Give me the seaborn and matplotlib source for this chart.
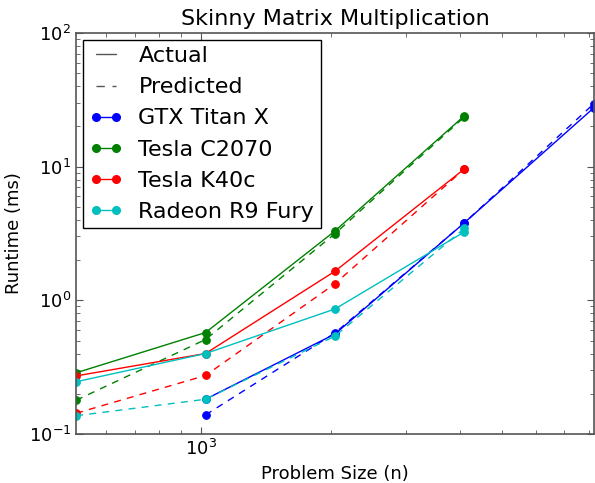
import numpy as np
import pandas as pd
import matplotlib
matplotlib.use("Agg")
import matplotlib.pyplot as plt
import seaborn as sns
from matplotlib.lines import Line2D

sizes = [512, 1024, 2048, 4096, 8192]
devices = ["GTX Titan X", "Tesla C2070", "Tesla K40c", "Radeon R9 Fury"]
colors = ["#0000ff", "#008000", "#ff0000", "#00bfbf"]

titan_actual = [np.nan, 0.182, 0.56, 3.8, 27.5]
titan_pred = [np.nan, 0.139, 0.57, 3.8, 29.5]
c2070_actual = [0.287, 0.574, 3.3, 24.0, np.nan]
c2070_pred = [0.179, 0.509, 3.15, 23.5, np.nan]
k40c_actual = [0.272, 0.40, 1.65, 9.6, np.nan]
k40c_pred = [0.143, 0.274, 1.33, 9.6, np.nan]
fury_actual = [0.246, 0.40, 0.861, 3.25, np.nan]
fury_pred = [0.137, 0.182, 0.54, 3.45, np.nan]

actual = [titan_actual, c2070_actual, k40c_actual, fury_actual]
pred = [titan_pred, c2070_pred, k40c_pred, fury_pred]

sns.set_style("ticks", {"xtick.direction": "in", "ytick.direction": "in"})
plt.rcParams["font.family"] = ["DejaVu Sans"]
plt.rcParams["text.color"] = "black"
plt.rcParams["axes.labelcolor"] = "black"
plt.rcParams["xtick.color"] = "black"
plt.rcParams["ytick.color"] = "black"

DASH = (0, (5, 4.5))
LEG_DASH = (0, (6, 5.5))

fig = plt.figure(figsize=(5.95, 4.83), dpi=100)
ax = fig.add_axes([0.128, 0.1014, 0.870, 0.8306])

for dev, col, a, p in zip(devices, colors, actual, pred):
    df_a = pd.DataFrame({"n": sizes, "t": a}).dropna()
    df_p = pd.DataFrame({"n": sizes, "t": p}).dropna()
    sns.lineplot(data=df_a, x="n", y="t", ax=ax, color=col, lw=1.0,
                 marker="o", markersize=5.5, markeredgecolor=col, linestyle="-")
    sns.lineplot(data=df_p, x="n", y="t", ax=ax, color=col, lw=1.0,
                 marker="o", markersize=5.5, markeredgecolor=col, dashes=False,
                 linestyle=DASH)

ax.set_xscale("log")
ax.set_yscale("log")
ax.set_xlim(512, 8192)
ax.set_ylim(0.1, 100)
ax.set_title("Skinny Matrix Multiplication", fontsize=16, color="black")
ax.set_xlabel("Problem Size (n)", fontsize=13)
ax.set_ylabel("Runtime (ms)", fontsize=13)
ax.tick_params(which="both", direction="in", top=True, right=True, labelsize=13,
               colors="black")
ax.tick_params(which="major", length=5, color="#555555")
ax.tick_params(which="minor", length=3, color="#555555")
for s in ax.spines.values():
    s.set_color("#555555")
    s.set_linewidth(1.2)

handles = [
    Line2D([], [], color="#555555", lw=1.0, linestyle="-"),
    Line2D([], [], color="#555555", lw=1.0, linestyle=LEG_DASH),
]
for col in colors:
    handles.append(Line2D([], [], color=col, lw=1.0, marker="o", markersize=5.5))
labels = ["Actual", "Predicted"] + devices
leg = ax.legend(handles, labels, loc="upper left", fontsize=16, numpoints=2,
                frameon=True, fancybox=False, borderpad=0.3, labelspacing=0.5,
                handlelength=1.5, handletextpad=0.7, borderaxespad=0.3)
leg.get_frame().set_edgecolor("black")
leg.get_frame().set_linewidth(1.0)
leg.get_frame().set_alpha(1.0)

fig.savefig("out.png", dpi=100)
